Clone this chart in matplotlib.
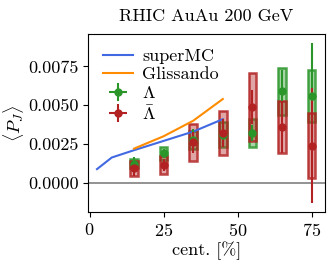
import numpy as np
import matplotlib.pyplot as plt
from matplotlib.patches import Rectangle

plt.rcParams['font.family'] = 'serif'
plt.rcParams['font.serif'] = ['cmr10']
plt.rcParams['mathtext.fontset'] = 'cm'
plt.rcParams['axes.formatter.use_mathtext'] = True
plt.rcParams['font.size'] = 13

# model curves
cent_smc = [2.5, 7.5, 15, 25, 35, 45]
pj_smc = [0.00088, 0.00163, 0.0021, 0.0027, 0.0033, 0.0041]
cent_gl = [15, 25, 35, 45]
pj_gl = [0.0022, 0.0030, 0.0040, 0.0054]

# data
cent = [15, 25, 35, 45, 55, 65, 75]
lam = [0.00123, 0.0019, 0.00275, 0.0031, 0.0032, 0.0059, 0.0056]
lam_stat = [0.0004, 0.0003, 0.0007, 0.0008, 0.0005, 0.0014, 0.0034]
lam_sys = [0.0003, 0.0004, 0.0006, 0.0008, 0.0009, 0.0015, 0.0017]
alam = [0.00093, 0.00114, 0.0026, 0.0032, 0.0049, 0.0036, 0.0024]
alam_stat = [0.0005, 0.0004, 0.0007, 0.0009, 0.0011, 0.0017, 0.0037]
alam_sys = [0.0005, 0.0006, 0.0012, 0.0014, 0.0022, 0.0017, 0.0021]

green = '#2a962a'
red = '#b22222'

fig = plt.figure(figsize=(3.35, 2.69), dpi=100)
ax = fig.add_axes([0.263, 0.211, 0.707, 0.663])

ax.axhline(0, color='gray', lw=1.2, zorder=0)
ax.plot(cent_smc, pj_smc, color='#4169e1', lw=1.5, label='superMC')
ax.plot(cent_gl, pj_gl, color='darkorange', lw=1.5, label='Glissando')

w = 2.6
for vals, sys, col in [(lam, lam_sys, green), (alam, alam_sys, red)]:
    for x, y, s in zip(cent, vals, sys):
        ax.add_patch(Rectangle((x - w / 2, y - s), w, 2 * s, facecolor=col,
                               alpha=0.4, edgecolor='none'))
        ax.add_patch(Rectangle((x - w / 2, y - s), w, 2 * s, facecolor='none',
                               edgecolor=col, lw=1.8, alpha=0.85))

ax.errorbar(cent, lam, yerr=lam_stat, xerr=0, fmt='o', color=green, ms=5,
            lw=1.5, label=r'$\Lambda$')
ax.errorbar(cent, alam, yerr=alam_stat, xerr=0, fmt='o', color=red, ms=5,
            lw=1.5, label=r'$\bar{\Lambda}$')

ax.set_xlim(-0.5, 79.5)
ax.set_ylim(-0.0019, 0.0096)
ax.set_xticks([0, 25, 50, 75])
ax.set_yticks([0, 0.0025, 0.005, 0.0075])
ax.set_yticklabels(['0.0000', '0.0025', '0.0050', '0.0075'])
ax.set_xlabel('cent. [%]', labelpad=2)
ax.set_ylabel(r'$\langle P_J\rangle$', labelpad=1)
ax.set_title('RHIC AuAu 200 GeV', fontsize=13, pad=9)
ax.legend(loc='upper left', frameon=False, fontsize=13, labelspacing=0.15,
          handletextpad=0.5, handlelength=1.7, borderaxespad=0.4)

fig.savefig('out.png', dpi=100)
